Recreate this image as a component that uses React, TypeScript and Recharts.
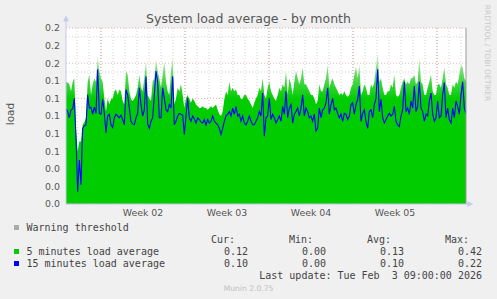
import { ComposedChart, Area, Line, XAxis, YAxis, CartesianGrid, ReferenceLine, ReferenceDot } from 'recharts'

// samples every 1/7.2 day (about 3h20m), 241 samples over the month
const load5 = [
  0.139, 0.138, 0.136, 0.128, 0.139, 0.143, 0.086, 0.060, 0.071, 0.071,
  0.090, 0.093, 0.098, 0.139, 0.147, 0.124, 0.136, 0.143, 0.139, 0.168,
  0.151, 0.143, 0.139, 0.120, 0.105, 0.120, 0.113, 0.119, 0.120, 0.128,
  0.130, 0.124, 0.130, 0.128, 0.117, 0.113, 0.151, 0.147, 0.128, 0.119,
  0.117, 0.120, 0.124, 0.132, 0.147, 0.132, 0.128, 0.143, 0.162, 0.124,
  0.120, 0.117, 0.139, 0.143, 0.164, 0.151, 0.143, 0.132, 0.147, 0.162,
  0.139, 0.128, 0.124, 0.151, 0.166, 0.113, 0.120, 0.132, 0.128, 0.136,
  0.124, 0.109, 0.120, 0.124, 0.119, 0.115, 0.120, 0.117, 0.113, 0.111,
  0.109, 0.109, 0.111, 0.109, 0.109, 0.107, 0.109, 0.111, 0.109, 0.111,
  0.113, 0.107, 0.102, 0.100, 0.105, 0.119, 0.128, 0.124, 0.139, 0.128,
  0.132, 0.128, 0.130, 0.124, 0.124, 0.119, 0.120, 0.124, 0.124, 0.120,
  0.117, 0.113, 0.109, 0.115, 0.120, 0.124, 0.132, 0.128, 0.143, 0.124,
  0.120, 0.132, 0.139, 0.128, 0.124, 0.120, 0.117, 0.124, 0.132, 0.128,
  0.136, 0.132, 0.151, 0.124, 0.143, 0.136, 0.124, 0.139, 0.151, 0.143,
  0.136, 0.143, 0.155, 0.136, 0.136, 0.132, 0.128, 0.124, 0.124, 0.120,
  0.113, 0.117, 0.136, 0.128, 0.128, 0.136, 0.143, 0.158, 0.132, 0.139,
  0.143, 0.136, 0.132, 0.128, 0.124, 0.126, 0.124, 0.128, 0.124, 0.122,
  0.124, 0.132, 0.136, 0.147, 0.156, 0.143, 0.158, 0.124, 0.128, 0.136,
  0.132, 0.124, 0.124, 0.136, 0.132, 0.139, 0.155, 0.170, 0.139, 0.143,
  0.132, 0.124, 0.124, 0.128, 0.128, 0.136, 0.132, 0.147, 0.124, 0.122,
  0.124, 0.132, 0.139, 0.143, 0.136, 0.139, 0.136, 0.143, 0.143, 0.147,
  0.136, 0.139, 0.166, 0.139, 0.136, 0.124, 0.124, 0.132, 0.139, 0.147,
  0.128, 0.124, 0.124, 0.136, 0.136, 0.132, 0.143, 0.155, 0.136, 0.132,
  0.124, 0.124, 0.136, 0.132, 0.139, 0.136, 0.147, 0.158, 0.155, 0.143,
  0.139,
]

const load15 = [
  0.108, 0.105, 0.098, 0.107, 0.108, 0.120, 0.075, 0.014, 0.050, 0.022,
  0.086, 0.089, 0.090, 0.124, 0.109, 0.110, 0.102, 0.110, 0.103, 0.153,
  0.103, 0.102, 0.119, 0.103, 0.081, 0.100, 0.102, 0.090, 0.087, 0.098,
  0.102, 0.100, 0.098, 0.101, 0.096, 0.090, 0.130, 0.124, 0.109, 0.094,
  0.091, 0.090, 0.098, 0.103, 0.132, 0.113, 0.100, 0.107, 0.145, 0.091,
  0.086, 0.094, 0.098, 0.124, 0.151, 0.138, 0.098, 0.098, 0.132, 0.120,
  0.107, 0.105, 0.113, 0.109, 0.145, 0.090, 0.094, 0.100, 0.103, 0.102,
  0.101, 0.079, 0.100, 0.120, 0.098, 0.094, 0.100, 0.097, 0.092, 0.098,
  0.096, 0.093, 0.092, 0.096, 0.090, 0.096, 0.092, 0.094, 0.100, 0.094,
  0.092, 0.090, 0.086, 0.079, 0.086, 0.094, 0.100, 0.102, 0.105, 0.100,
  0.109, 0.102, 0.111, 0.100, 0.102, 0.094, 0.100, 0.092, 0.090, 0.094,
  0.100, 0.094, 0.090, 0.090, 0.094, 0.098, 0.105, 0.100, 0.126, 0.077,
  0.098, 0.100, 0.120, 0.096, 0.102, 0.098, 0.092, 0.096, 0.100, 0.094,
  0.111, 0.102, 0.128, 0.098, 0.109, 0.113, 0.092, 0.102, 0.105, 0.109,
  0.100, 0.109, 0.124, 0.100, 0.109, 0.105, 0.098, 0.100, 0.094, 0.102,
  0.083, 0.086, 0.109, 0.098, 0.107, 0.109, 0.115, 0.132, 0.102, 0.113,
  0.120, 0.107, 0.109, 0.103, 0.098, 0.102, 0.094, 0.103, 0.102, 0.096,
  0.100, 0.113, 0.115, 0.102, 0.113, 0.119, 0.134, 0.094, 0.103, 0.107,
  0.094, 0.086, 0.105, 0.107, 0.098, 0.113, 0.120, 0.153, 0.105, 0.119,
  0.098, 0.092, 0.096, 0.100, 0.103, 0.100, 0.102, 0.111, 0.094, 0.090,
  0.088, 0.100, 0.107, 0.139, 0.105, 0.109, 0.102, 0.117, 0.109, 0.134,
  0.105, 0.111, 0.139, 0.109, 0.105, 0.094, 0.102, 0.100, 0.117, 0.126,
  0.102, 0.094, 0.098, 0.117, 0.098, 0.100, 0.124, 0.138, 0.098, 0.109,
  0.096, 0.092, 0.109, 0.098, 0.117, 0.111, 0.102, 0.124, 0.139, 0.109,
  0.103,
]

const weekLabels = ['Week 02', 'Week 03', 'Week 04', 'Week 05']
const yTicks = [0, 0.02, 0.04, 0.06, 0.08, 0.1, 0.12, 0.14, 0.16, 0.18, 0.2]
const yMinor = [0.01, 0.03, 0.05, 0.07, 0.09, 0.11, 0.13, 0.15, 0.17, 0.19]

const legendNames = ['5 minutes load average', '15 minutes load average']
const legendColors = ['#00cc00', '#0000ff']
const statCur = ['0.12', '0.10']
const statMin = ['0.00', '0.00']
const statAvg = ['0.13', '0.10']
const statMax = ['0.42', '0.22']

const DAY = 7.2 // samples per day
const WEEK0 = 21 // sample index where week 02 starts
const LAST = 240

const data = load5.map((v, i) => ({ i, load5: v, load15: load15[i] }))

const dayLines: number[] = []
for (let d = WEEK0 - 2 * DAY; d < LAST; d += DAY) dayLines.push(d)
const weekLines = [0, 1, 2, 3, 4].map(k => WEEK0 + k * 7 * DAY)
const weekTicks = weekLabels.map((_, k) => WEEK0 + k * 7 * DAY + 3.5 * DAY)

const mono = '"DejaVu Sans Mono", monospace'
const txt = '#444'

function Cell({ x, y, text, right }: { x: number; y: number; text: string; right?: boolean }) {
  return (
    <div style={{
      position: 'absolute', top: y - 6, height: 12, lineHeight: '12px', whiteSpace: 'pre',
      fontFamily: mono, fontSize: 10, color: txt,
      ...(right ? { right: 497 - x, textAlign: 'right' } : { left: x }),
    }}>{text}</div>
  )
}

const axisColor = '#c8c8f0'

export default function App() {
  return (
    <div style={{
      position: 'absolute', left: 0, top: 0, width: 497, height: 299, background: '#f0f0f0',
      overflow: 'hidden', fontFamily: '"DejaVu Sans", sans-serif',
    }}>
      <ComposedChart width={497} height={299} data={data}
        margin={{ top: 28, right: 31, bottom: 75, left: 6 }}
        style={{ position: 'absolute', left: 0, top: 0 }}>
        <defs>
          {/* spike tops fade out like the rrd consolidation blur */}
          <linearGradient id="load5Fade" x1="0" y1="0" x2="0" y2="1">
            <stop offset="0" stopColor="#c4f0c4" />
            <stop offset="0.14" stopColor="#5cda5c" />
            <stop offset="0.3" stopColor="#00cc00" />
            <stop offset="1" stopColor="#00cc00" />
          </linearGradient>
        </defs>
        <CartesianGrid fill="#ffffff" stroke="#808080" strokeOpacity={0.35} strokeDasharray="1 2"
          horizontalValues={yMinor} verticalValues={dayLines} />
        <CartesianGrid stroke="#c04040" strokeOpacity={0.4} strokeDasharray="1 2"
          horizontalValues={yTicks} verticalValues={weekLines} />
        <XAxis type="number" dataKey="i" domain={[0, LAST]} allowDataOverflow ticks={weekTicks}
          tickFormatter={(v: number) => weekLabels[weekTicks.indexOf(v)] ?? ''}
          tickLine={false} tickSize={3} tickMargin={2} height={20}
          axisLine={{ stroke: axisColor }} tick={{ fill: '#555', fontSize: 9.4 }} />
        <YAxis type="number" domain={[0, 0.2]} allowDataOverflow ticks={yTicks}
          tickFormatter={(v: number) => v.toFixed(1)}
          tickLine={false} tickSize={3} tickMargin={3} width={60}
          axisLine={{ stroke: axisColor }} tick={{ fill: '#555', fontSize: 9.4 }} />
        <Area dataKey="load5" type="linear" stroke="none" fill="url(#load5Fade)" fillOpacity={1}
          isAnimationActive={false} />
        <Line dataKey="load15" type="linear" stroke="#0000ff" strokeWidth={1.1} dot={false}
          isAnimationActive={false} />
        <ReferenceLine x={LAST} stroke="#999" />
        <ReferenceLine segment={[{ x: 0, y: 0.2 }, { x: 0, y: 0.21 }]} stroke={axisColor} ifOverflow="visible" />
        <ReferenceLine segment={[{ x: LAST, y: 0 }, { x: LAST + 2, y: 0 }]} stroke={axisColor} ifOverflow="visible" />
        <ReferenceDot x={0} y={0.21} ifOverflow="visible"
          shape={(p: any) => <path d={`M${p.cx - 3},${p.cy + 2}L${p.cx + 3},${p.cy + 2}L${p.cx},${p.cy - 4}Z`} fill={axisColor} />} />
        <ReferenceDot x={LAST + 2} y={0} ifOverflow="visible"
          shape={(p: any) => <path d={`M${p.cx - 2},${p.cy - 3}L${p.cx - 2},${p.cy + 3}L${p.cx + 4},${p.cy}Z`} fill={axisColor} />} />
      </ComposedChart>

      <div style={{ position: 'absolute', left: 0, top: 11, width: 497, textAlign: 'center', fontSize: 12.5, lineHeight: '16px', color: '#555' }}>
        System load average - by month
      </div>
      <div style={{ position: 'absolute', left: 10, top: 114, transform: 'translate(-50%, -50%) rotate(-90deg)', fontSize: 10.5, color: '#555', whiteSpace: 'nowrap' }}>
        load
      </div>
      <div style={{ position: 'absolute', left: 487, top: 53, transform: 'translate(-50%, -50%) rotate(90deg)', fontSize: 7.5, color: '#c8c8c8', whiteSpace: 'nowrap' }}>
        RRDTOOL / TOBI OETIKER
      </div>

      <div style={{ position: 'absolute', left: 14, top: 225, width: 5, height: 5, background: '#aaaaaa' }} />
      <Cell x={26.5} y={227.5} text="Warning threshold" />
      <Cell x={235} y={240} text="Cur:" right />
      <Cell x={313} y={240} text="Min:" right />
      <Cell x={391} y={240} text="Avg:" right />
      <Cell x={469} y={240} text="Max:" right />
      {legendNames.map((n, k) => {
        const y = 251.5 + k * 12
        return (
          <div key={n}>
            <div style={{ position: 'absolute', left: 14, top: y - 2.5, width: 5, height: 5, background: legendColors[k] }} />
            <Cell x={26.5} y={y} text={n} />
            <Cell x={248} y={y} text={statCur[k]} right />
            <Cell x={326} y={y} text={statMin[k]} right />
            <Cell x={404} y={y} text={statAvg[k]} right />
            <Cell x={482} y={y} text={statMax[k]} right />
          </div>
        )
      })}
      <Cell x={482} y={276} text="Last update: Tue Feb  3 09:00:00 2026" right />
      <div style={{ position: 'absolute', left: 0, top: 284, width: 497, textAlign: 'center', fontSize: 7.6, lineHeight: '10px', color: '#c0c0c0' }}>
        Munin 2.0.75
      </div>
    </div>
  )
}
